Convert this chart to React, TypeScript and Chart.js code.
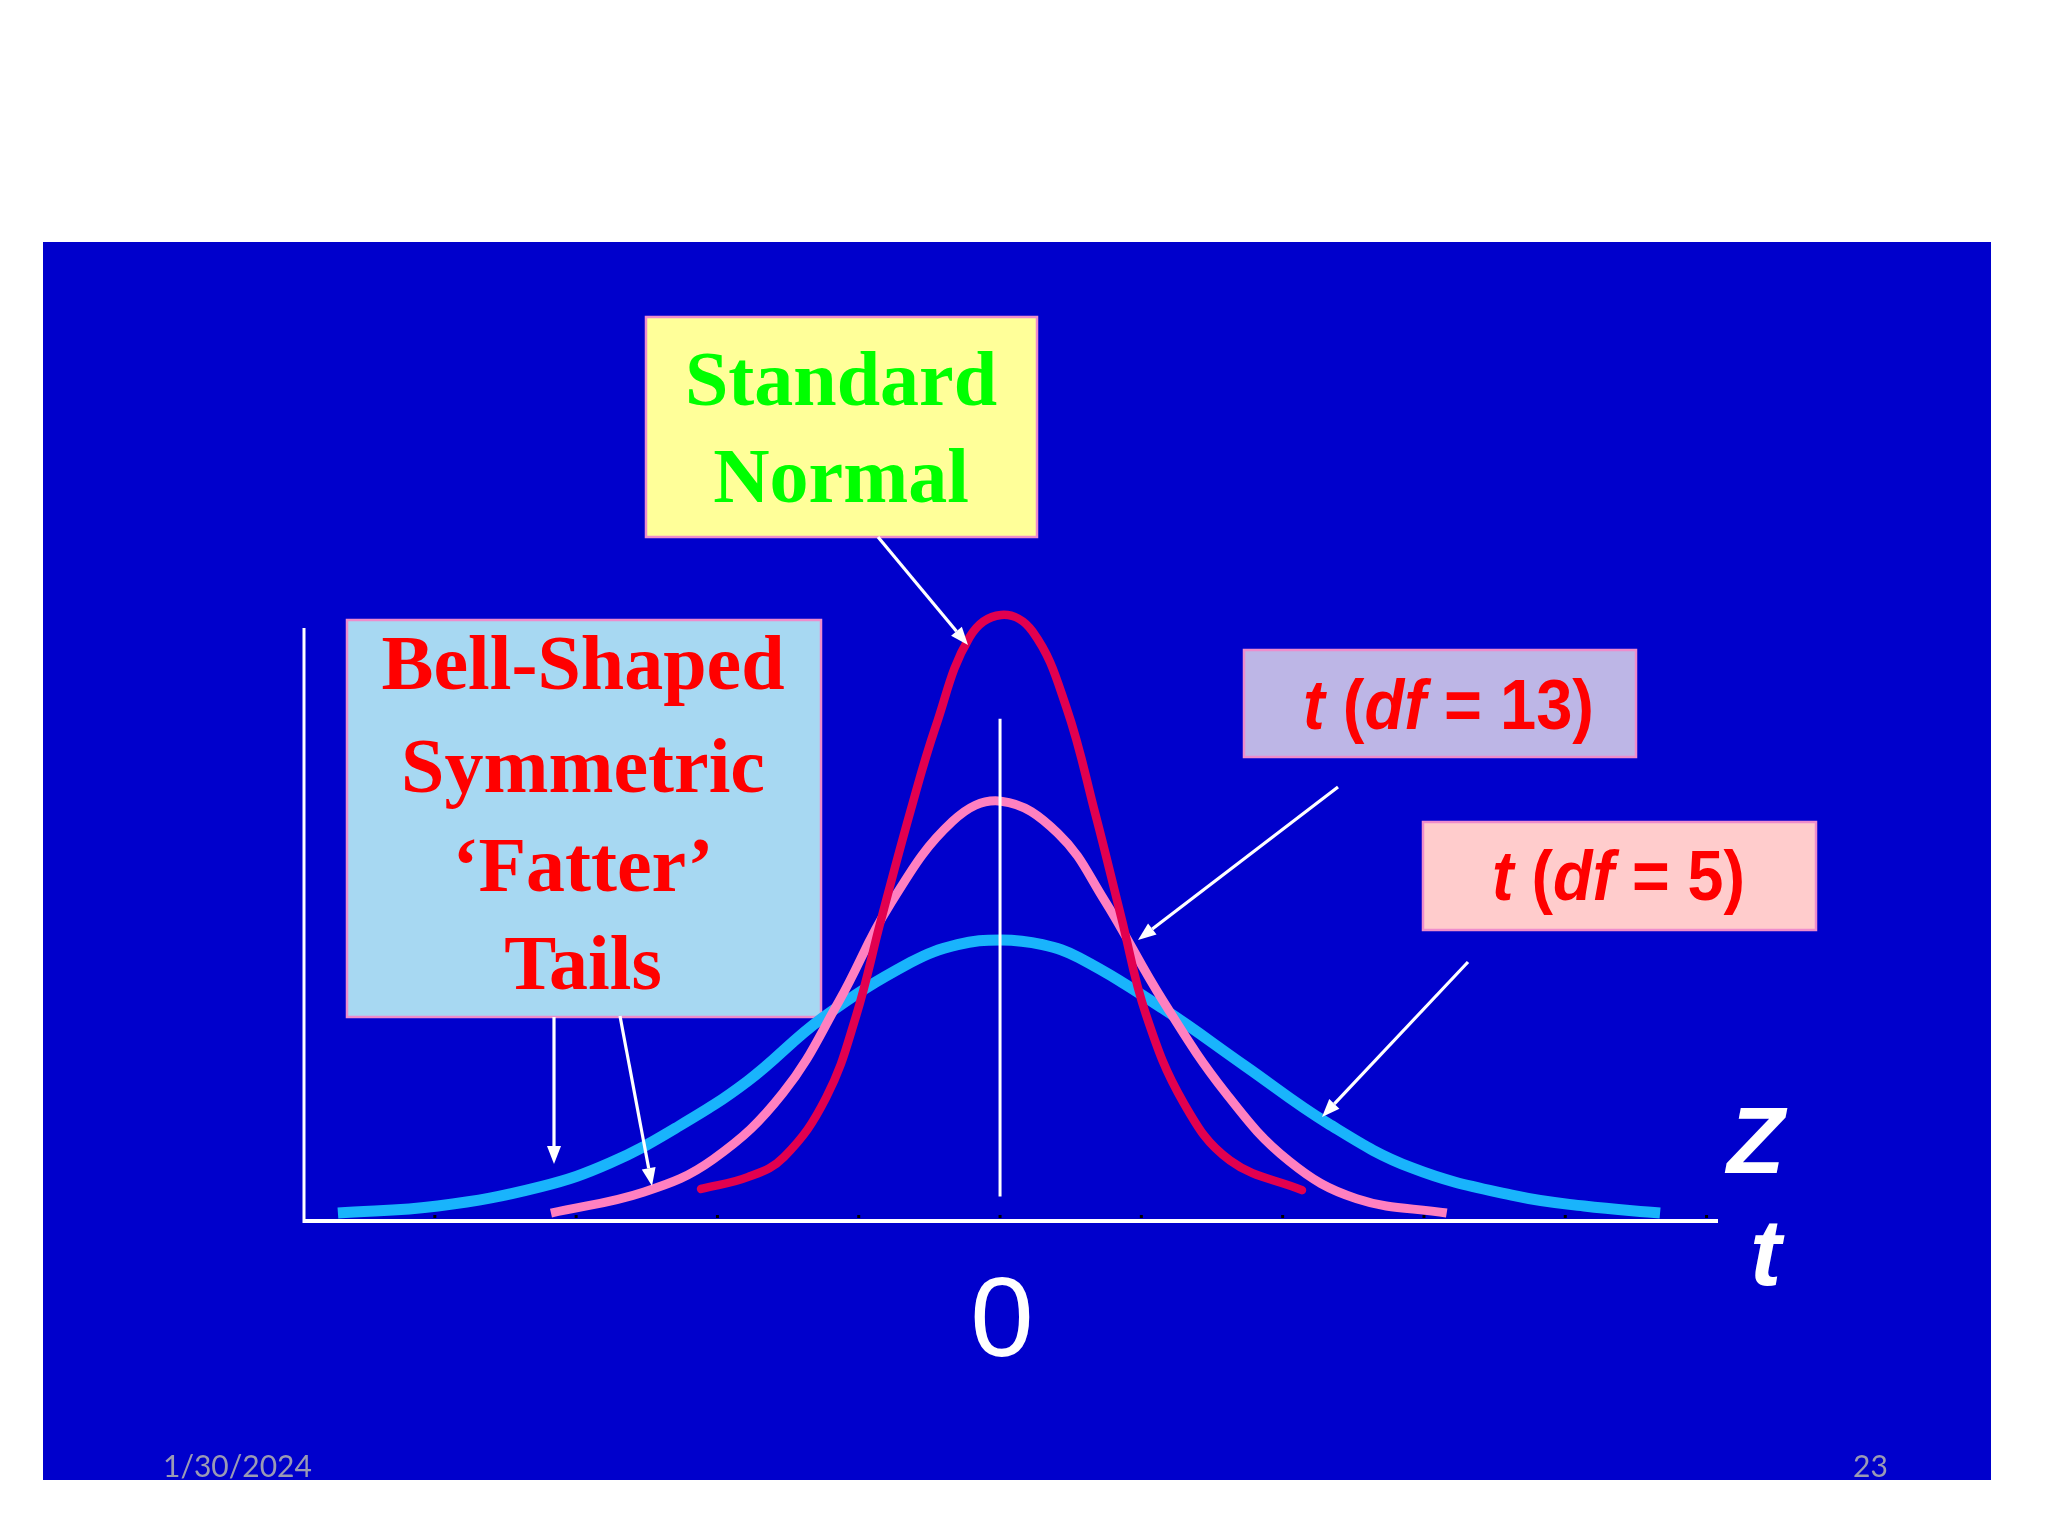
import React, { useEffect, useRef } from "react";
import { Chart, registerables } from "chart.js";

Chart.register(...registerables);

// ---- Data ----
const seriesLabels = ["Standard Normal", "t (df = 13)", "t (df = 5)"];

const normalX = [-2.116, -1.786, -1.529, -1.231, -1.021, -0.842, -0.633, -0.455, -0.217, 0.007, 0.23, 0.467, 0.677, 0.856, 1.033, 1.302, 1.628, 2.137];
const normalY = [0.027, 0.037, 0.054, 0.104, 0.172, 0.254, 0.346, 0.417, 0.492, 0.511, 0.497, 0.434, 0.342, 0.257, 0.174, 0.099, 0.051, 0.026];

const t13X = [-3.178, -2.519, -2.031, -1.536, -1.139, -0.783, -0.336, 0.007, 0.409, 0.736, 1.154, 1.6, 2.045, 2.524, 3.161];
const t13Y = [0.0067, 0.0245, 0.052, 0.108, 0.1855, 0.266, 0.337, 0.354, 0.327, 0.271, 0.1855, 0.1075, 0.0506, 0.0188, 0.0067];

const t5X = [-4.686, -3.979, -3.248, -2.76, -2.272, -1.786, -1.26, -0.633, -0.3, 0.007, 0.3, 0.558, 1.154, 1.734, 2.321, 2.916, 3.648, 4.133, 4.671];
const t5Y = [0.0067, 0.0126, 0.029, 0.049, 0.08, 0.118, 0.171, 0.218, 0.233, 0.237, 0.233, 0.222, 0.179, 0.1307, 0.0822, 0.0447, 0.0211, 0.0126, 0.0067];

const xTicks = [-4, -3, -2, -1, 0, 1, 2, 3, 4, 5];
const centerLineX = 0;
const centerLineFrom = 0.0206;
const centerLineTo = 0.4234;

const axisLabelZero = "0";
const axisLabelZ = "Z";
const axisLabelT = "t";
const footerDate = "1/30/2024";
const footerPage = "23";

// ---- Styles / layout ----
const COLORS = {
  blue: "#0000cc",
  normal: "#e2004f",
  t13: "#ff80c0",
  t5: "#19b4fc",
  white: "#ffffff",
  boxBorder: "#ee8ccc",
  footer: "#9a9ab4",
};

const SERIF = '"Liberation Serif", "Times New Roman", serif';
const SANS = '"Liberation Sans", Arial, sans-serif';

type Pt = [number, number];

function zip(xs: number[], ys: number[]) {
  return xs.map((x, i) => ({ x, y: ys[i] }));
}

function drawArrow(ctx: CanvasRenderingContext2D, from: Pt, to: Pt) {
  const [x1, y1] = from;
  const [x2, y2] = to;
  const a = Math.atan2(y2 - y1, x2 - x1);
  const head = 18;
  const hw = 7;
  const bx = x2 - head * Math.cos(a);
  const by = y2 - head * Math.sin(a);
  ctx.save();
  ctx.strokeStyle = COLORS.white;
  ctx.fillStyle = COLORS.white;
  ctx.lineWidth = 3.2;
  ctx.beginPath();
  ctx.moveTo(x1, y1);
  ctx.lineTo(bx, by);
  ctx.stroke();
  ctx.beginPath();
  ctx.moveTo(x2, y2);
  ctx.lineTo(bx + hw * Math.sin(a), by - hw * Math.cos(a));
  ctx.lineTo(bx - hw * Math.sin(a), by + hw * Math.cos(a));
  ctx.closePath();
  ctx.fill();
  ctx.restore();
}

function drawBox(ctx: CanvasRenderingContext2D, x1: number, y1: number, x2: number, y2: number, fill: string) {
  ctx.save();
  ctx.fillStyle = fill;
  ctx.fillRect(x1, y1, x2 - x1, y2 - y1);
  ctx.strokeStyle = COLORS.boxBorder;
  ctx.lineWidth = 2.5;
  ctx.strokeRect(x1, y1, x2 - x1, y2 - y1);
  ctx.restore();
}

function drawRuns(
  ctx: CanvasRenderingContext2D,
  runs: { text: string; italic: boolean }[],
  left: number,
  baseline: number,
  size: number,
  targetWidth: number,
  color: string
) {
  ctx.save();
  const fontFor = (it: boolean) => `${it ? "italic " : ""}bold ${size}px ${SANS}`;
  let total = 0;
  const widths = runs.map((r) => {
    ctx.font = fontFor(r.italic);
    const w = ctx.measureText(r.text).width;
    total += w;
    return w;
  });
  const sx = targetWidth / total;
  ctx.translate(left, baseline);
  ctx.scale(sx, 1);
  ctx.fillStyle = color;
  ctx.textAlign = "left";
  ctx.textBaseline = "alphabetic";
  let x = 0;
  runs.forEach((r, i) => {
    ctx.font = fontFor(r.italic);
    ctx.fillText(r.text, x, 0);
    x += widths[i];
  });
  ctx.restore();
}

function centeredLines(ctx: CanvasRenderingContext2D, lines: string[], cx: number, baselines: number[], font: string, color: string) {
  ctx.save();
  ctx.font = font;
  ctx.fillStyle = color;
  ctx.textAlign = "center";
  ctx.textBaseline = "alphabetic";
  lines.forEach((l, i) => ctx.fillText(l, cx, baselines[i]));
  ctx.restore();
}

const slidePlugin = {
  id: "slideDecor",
  beforeDraw(chart: any) {
    const ctx: CanvasRenderingContext2D = chart.ctx;
    ctx.save();
    ctx.fillStyle = "#ffffff";
    ctx.fillRect(0, 0, chart.width, chart.height);
    ctx.fillStyle = COLORS.blue;
    ctx.fillRect(43, 242, 1991 - 43, 1480 - 242);
    ctx.restore();
  },
  beforeDatasetsDraw(chart: any) {
    const ctx: CanvasRenderingContext2D = chart.ctx;
    // Standard Normal box
    drawBox(ctx, 646, 317, 1037, 537, "#ffff99");
    centeredLines(ctx, ["Standard", "Normal"], 841, [405, 502], `bold 78px ${SERIF}`, "#00ff00");
    // Bell-shaped box
    drawBox(ctx, 347, 620, 821, 1017, "#a7d8f2");
    centeredLines(
      ctx,
      ["Bell-Shaped", "Symmetric", "\u2018Fatter\u2019", "Tails"],
      583,
      [689, 792, 890.5, 989],
      `bold 78px ${SERIF}`,
      "#ff0000"
    );
    // t(df=13)
    drawBox(ctx, 1244, 650, 1636, 757, "#bdb6e6");
    drawRuns(
      ctx,
      [
        { text: "t", italic: true },
        { text: " (", italic: false },
        { text: "df", italic: true },
        { text: " = 13)", italic: false },
      ],
      1303,
      729,
      71,
      291,
      "#ff0000"
    );
    // t(df=5)
    drawBox(ctx, 1423, 822, 1816, 930, "#ffcccc");
    drawRuns(
      ctx,
      [
        { text: "t", italic: true },
        { text: " (", italic: false },
        { text: "df", italic: true },
        { text: " = 5)", italic: false },
      ],
      1492,
      900,
      71,
      253,
      "#ff0000"
    );
  },
  afterDatasetsDraw(chart: any) {
    const ctx: CanvasRenderingContext2D = chart.ctx;
    const area = chart.chartArea;
    const xs = chart.scales.x;
    const ys = chart.scales.y;
    ctx.save();
    // axes
    ctx.strokeStyle = COLORS.white;
    ctx.lineWidth = 4;
    ctx.beginPath();
    ctx.moveTo(area.left, area.bottom);
    ctx.lineTo(area.right, area.bottom);
    ctx.stroke();
    ctx.lineWidth = 3;
    ctx.beginPath();
    ctx.moveTo(area.left + 1, area.top);
    ctx.lineTo(area.left + 1, area.bottom + 2);
    ctx.stroke();
    // tick dots
    ctx.fillStyle = "#000000";
    xTicks.forEach((t) => {
      const px = xs.getPixelForValue(t);
      ctx.fillRect(px - 1.5, area.bottom - 6, 3, 3);
    });
    // center line
    ctx.strokeStyle = COLORS.white;
    ctx.lineWidth = 3;
    const cx = xs.getPixelForValue(centerLineX);
    ctx.beginPath();
    ctx.moveTo(cx, ys.getPixelForValue(centerLineTo));
    ctx.lineTo(cx, ys.getPixelForValue(centerLineFrom));
    ctx.stroke();
    ctx.restore();

    // arrows
    drawArrow(ctx, [878, 537], [968, 645]);
    drawArrow(ctx, [1338, 787], [1138, 940]);
    drawArrow(ctx, [1468, 962], [1322, 1117]);
    drawArrow(ctx, [554, 1017], [554, 1164]);
    drawArrow(ctx, [620, 1016], [652, 1186]);

    // axis labels
    ctx.save();
    ctx.fillStyle = COLORS.white;
    ctx.textBaseline = "alphabetic";
    ctx.textAlign = "center";
    ctx.font = `114px ${SANS}`;
    ctx.fillText(axisLabelZero, cx + 2, 1356);
    ctx.textAlign = "left";
    ctx.font = `italic bold 94px ${SANS}`;
    ctx.fillText(axisLabelZ, 1727, 1173);
    ctx.fillText(axisLabelT, 1750, 1285);
    // footer
    ctx.fillStyle = COLORS.footer;
    ctx.font = `30px Lato, "Open Sans", sans-serif`;
    ctx.fillText(footerDate, 163, 1477);
    ctx.fillText(footerPage, 1853, 1477);
    ctx.restore();
  },
};

export default function App() {
  const ref = useRef<HTMLCanvasElement>(null);

  useEffect(() => {
    if (!ref.current) return;
    const common = { pointRadius: 0, tension: 0.4, clip: false, fill: false };
    const chart = new Chart(ref.current, {
      type: "line",
      data: {
        datasets: [
          {
            ...common,
            label: seriesLabels[0],
            data: zip(normalX, normalY),
            borderColor: COLORS.normal,
            borderWidth: 8.5,
            borderCapStyle: "round",
          },
          {
            ...common,
            label: seriesLabels[1],
            data: zip(t13X, t13Y),
            borderColor: COLORS.t13,
            borderWidth: 9,
          },
          {
            ...common,
            label: seriesLabels[2],
            data: zip(t5X, t5Y),
            borderColor: COLORS.t5,
            borderWidth: 11,
          },
        ],
      },
      options: {
        responsive: false,
        animation: false,
        devicePixelRatio: 1,
        events: [],
        layout: { padding: { left: 303, right: 330, top: 628, bottom: 315 } },
        scales: {
          x: { type: "linear", min: -4.933, max: 5.081, display: false },
          y: { type: "linear", min: 0, max: 0.5, display: false },
        },
        plugins: {
          legend: { display: false },
          tooltip: { enabled: false },
          title: { display: false },
        },
      },
      plugins: [slidePlugin],
    } as any);
    return () => chart.destroy();
  }, []);

  return (
    <div style={{ position: "absolute", left: 0, top: 0, width: 2048, height: 1536, background: "#ffffff" }}>
      <canvas ref={ref} width={2048} height={1536} style={{ display: "block", width: 2048, height: 1536 }} />
    </div>
  );
}
